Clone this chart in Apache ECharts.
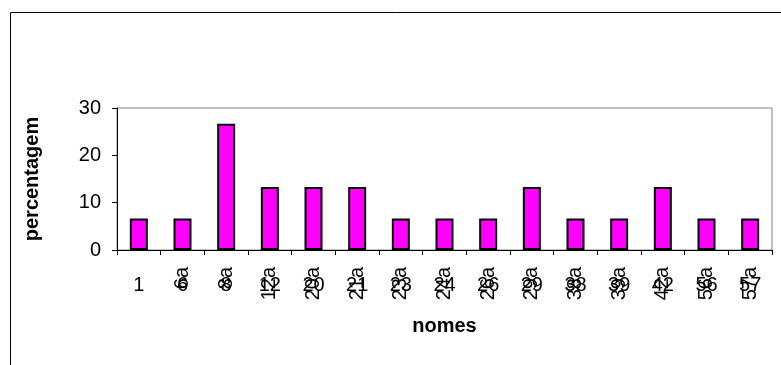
<!DOCTYPE html>
<html>
<head>
<meta charset="utf-8">
<script src="https://cdn.jsdelivr.net/npm/echarts@6/dist/echarts.min.js"></script>
<style>html,body{margin:0;padding:0;background:#fff;}#c{width:781px;height:365px;}</style>
</head>
<body>
<div id="c"></div>
<script>
var categories = ['1','6','8','12','20','21','23','24','26','29','38','39','42','56','57'];
var rotatedLabels = ['','6a','8a','12a','20a','21a','23a','24a','26a','29a','38a','39a','42a','56a','57a'];
var values = [6.67,6.67,26.67,13.33,13.33,13.33,6.67,6.67,6.67,13.33,6.67,6.67,13.33,6.67,6.67];
var yTicks = [0,10,20,30];

var FONT = 'Liberation Sans, Arial, sans-serif';
var chart = echarts.init(document.getElementById('c'), null, {renderer:'canvas'});
chart.setOption({
  animation:false,
  backgroundColor:'#ffffff',
  graphic:[{
    type:'rect', shape:{x:10.5,y:12.5,width:900,height:500},
    style:{fill:null, stroke:'#000', lineWidth:1}, z:-1, silent:true
  }],
  grid:{left:117, top:108, right:9, bottom:115, show:true, borderColor:'#808080', borderWidth:1},
  xAxis:[{
    type:'category', data:categories, position:'bottom',
    name:'nomes', nameLocation:'middle', nameGap:66,
    nameTextStyle:{fontFamily:FONT, fontWeight:'bold', fontSize:20, color:'#000'},
    axisLine:{lineStyle:{color:'#000', width:1}},
    axisTick:{show:true, length:5, lineStyle:{color:'#000'}},
    axisLabel:{fontFamily:FONT, fontSize:20, color:'#000', margin:25, interval:0}
  },{
    type:'category', data:rotatedLabels, position:'bottom', offset:0,
    axisLine:{show:false}, axisTick:{show:false},
    axisLabel:{fontFamily:FONT, fontSize:20, color:'#000', rotate:90, margin:17, interval:0}
  }],
  yAxis:{
    type:'value', min:yTicks[0], max:yTicks[yTicks.length-1], interval:10,
    name:'percentagem', nameLocation:'middle', nameGap:75,
    nameTextStyle:{fontFamily:FONT, fontWeight:'bold', fontSize:20, color:'#000'},
    axisLine:{show:true, lineStyle:{color:'#000', width:1}},
    axisTick:{show:true, length:5, lineStyle:{color:'#000'}},
    splitLine:{show:false},
    axisLabel:{fontFamily:FONT, fontSize:20, color:'#000', margin:16}
  },
  series:[{
    type:'bar', data:values, xAxisIndex:0, barWidth:18,
    itemStyle:{color:'#FF00FF', borderColor:'#000', borderWidth:2}
  }]
});
</script>
</body>
</html>
